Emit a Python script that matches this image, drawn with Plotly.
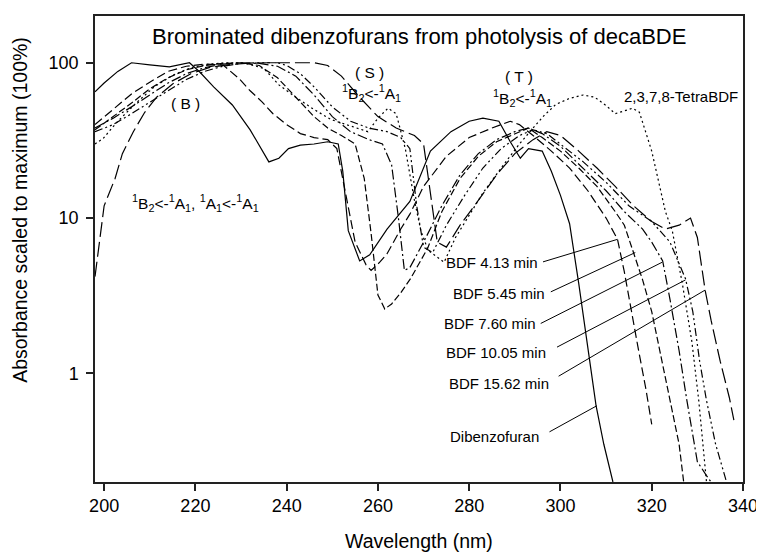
import math
import plotly.graph_objects as go

# ---------------- data ----------------
dbf_x = [198, 200, 203, 206, 210, 214.3, 218.7, 220.9, 224, 228.1, 232, 236.1, 238.3, 240.4, 243, 246, 249,
         251.3, 252.3, 253.5, 256, 258.2, 262, 267, 271.5, 276, 280, 283, 286.5, 289, 291.2, 293, 296, 298,
         300, 302, 304, 306.3, 307.8, 309.5, 311.5]
dbf_y = [65, 74, 88, 100, 97, 94, 100, 87.5, 70, 53.5, 37, 23, 24.3, 28, 29.5, 30, 31,
         30, 20, 8.3, 5.3, 5.8, 8.5, 12.8, 27, 36, 42, 44, 42, 31, 24.3, 28, 27, 20,
         14, 9.2, 3.8, 1.3, 0.62, 0.35, 0.2]

b413_x = [198, 202, 206, 210, 214, 218, 222, 226, 229.6, 232, 234.6, 237, 240, 243, 246, 249, 251, 253, 255,
          257.4, 258.5, 260.4, 262, 265, 267, 270, 275, 280, 285, 289, 291, 294, 298, 302, 306, 310, 312.5,
          314, 315.5, 317, 318.7, 320]
b413_y = [40, 50, 63, 75, 88, 95, 98, 97, 79, 66, 56, 47, 40, 35, 33, 32, 28, 14, 7,
          5.0, 4.6, 5.2, 5.9, 8.5, 10.6, 16, 25, 33, 38, 42, 40, 34, 27, 21, 15, 10, 7.3,
          4.5, 2.5, 1.47, 0.8, 0.47]

b545_x = [198, 202, 206, 210, 214, 218, 222, 226, 230, 234, 238, 242, 246, 249, 252, 255, 257, 258.5, 260,
          261.5, 263, 265, 267.2, 270.9, 274, 278, 282, 286, 290, 293, 296, 300, 304, 308, 312, 314, 316,
          318, 320, 322, 324, 326, 327]
b545_y = [37, 45, 55, 68, 80, 90, 96, 99, 100, 96, 80, 60, 45, 38, 34, 30, 18, 8, 3.2,
          2.6, 2.8, 3.3, 4.1, 6.4, 11, 18, 25, 31, 35, 38, 33, 27, 21, 16, 11, 9, 6,
          4, 2.5, 1.3, 0.7, 0.35, 0.2]

b760_x = [198, 202, 206, 210, 214, 218, 222, 226, 230, 234, 238, 242, 246, 250, 254, 258, 261, 263, 264.5,
          265.8, 267, 270, 274, 278, 282, 286, 290, 293, 296, 300, 305, 310, 314, 318, 320, 322.4, 324,
          326, 327.7, 329, 330, 332, 333]
b760_y = [38, 44, 52, 62, 74, 85, 93, 98, 100, 99, 95, 82, 62, 45, 36, 32, 30, 22, 10,
          4.6, 4.8, 7, 12, 19, 26, 32, 36, 38, 35, 29, 21, 15, 11, 8.5, 7, 5.3, 3,
          1.4, 0.67, 0.4, 0.27, 0.22, 0.2]

b1005_x = [198, 202, 206, 210, 214, 218, 222, 226, 230, 234, 238, 240, 243, 246, 250, 254, 258, 262, 265,
           267, 268.5, 270, 272, 275, 279, 283, 287, 291, 294, 297, 300, 305, 310, 315, 320, 324, 327.4,
           329, 330.5, 332, 334, 336.4]
b1005_y = [36, 40, 47, 56, 66, 78, 88, 95, 99, 100, 100, 96, 85, 70, 52, 42, 38, 36, 33,
           28, 12, 6.5, 6, 9, 14, 21, 28, 34, 37, 35, 30, 23, 17, 12, 9.5, 7, 4.07,
           2.5, 1.2, 0.67, 0.35, 0.2]

b1562_x = [198, 199, 200, 202.4, 204, 206.4, 208.9, 211.5, 215, 219, 223, 227, 231, 236, 241, 246, 249, 252,
           256, 260, 264, 268, 270, 271.5, 273, 275, 278, 282, 286, 290, 294, 297, 300, 304, 308, 312, 316,
           320, 323, 326, 328.5, 330, 331.7, 333, 335, 337, 338]
b1562_y = [4.2, 7, 12, 18, 26, 36, 48, 60, 73, 85, 93, 97, 99, 100, 100, 100, 96, 82,
           60, 45, 38, 34, 30, 15, 7, 6.5, 9, 13, 19, 26, 32, 36, 34, 27, 21, 16, 12,
           9.5, 8.5, 9, 10, 7.5, 3.44, 2.2, 1.2, 0.7, 0.5]

tetra_x = [198, 199.8, 203, 207, 211, 215, 219, 223, 227, 231, 235, 238.3, 242, 246, 249.8, 254, 257.8, 260,
           262.2, 264, 266, 268, 269.4, 271, 274.5, 277, 279.6, 283, 287, 291, 294, 296.5, 299, 302, 305,
           307.5, 310, 312, 314, 315.8, 317.3, 320, 323, 324.5, 326.7, 328.8, 330.3, 332]
tetra_y = [30, 32.6, 42, 55, 70, 83, 93, 98, 100, 99, 92, 72, 60, 50, 43, 39, 36, 44,
           51, 47, 28, 13, 8.3, 6.2, 5.2, 7.5, 10, 14.5, 21, 30, 38, 46, 54, 59, 62,
           60, 53, 47, 49, 51, 48, 27, 11, 8.3, 3.8, 1.6, 0.67, 0.2]

series = [
    ("Dibenzofuran", dbf_x, dbf_y, "solid"),
    ("BDF 4.13 min", b413_x, b413_y, "9px,4px"),
    ("BDF 5.45 min", b545_x, b545_y, "7px,3px"),
    ("BDF 7.60 min", b760_x, b760_y, "10px,3px,2px,3px"),
    ("BDF 10.05 min", b1005_x, b1005_y, "8px,3px,2px,3px,2px,3px"),
    ("BDF 15.62 min", b1562_x, b1562_y, "15px,5px"),
    ("2,3,7,8-TetraBDF", tetra_x, tetra_y, "2px,3px"),
]

# label leader targets: (label, wavelength, value, tail offset px)
leaders = [
    ("BDF 4.13 min", 312.5, 7.3, -76, 23),
    ("BDF 5.45 min", 316.4, 6.0, -86, 40),
    ("BDF 7.60 min", 322.3, 5.2, -123, 62),
    ("BDF 10.05 min", 327.4, 4.0, -130, 68),
    ("BDF 15.62 min", 331.7, 3.44, -148, 87),
    ("Dibenzofuran", 308.0, 0.62, -49, 27),
]

FONT = "Liberation Sans, Arial, Helvetica, sans-serif"

fig = go.Figure()
for name, xs, ys, dash in series:
    fig.add_trace(go.Scatter(x=xs, y=ys, mode="lines", name=name,
                             line=dict(color="black", width=1.2, dash=dash),
                             showlegend=False, hoverinfo="skip"))

ann = []
for name, wx, wy, ax, ay in leaders:
    ann.append(dict(x=wx, y=math.log10(wy), xref="x", yref="y", text="", showarrow=True,
                    ax=ax, ay=ay, arrowhead=0, arrowwidth=1, arrowcolor="black", standoff=0,
                    startstandoff=0))

def txt(s, x, y, size=15, xanchor="center"):
    ann.append(dict(text=s, x=x, y=y, xref="paper", yref="paper", showarrow=False,
                    xanchor=xanchor, yanchor="middle", font=dict(family=FONT, size=size, color="black")))

lab_txt = [
    ("BDF 4.13 min", 0.686, 0.472),
    ("BDF 5.45 min", 0.698, 0.4045),
    ("BDF 7.60 min", 0.684, 0.340),
    ("BDF 10.05 min", 0.699, 0.278),
    ("BDF 15.62 min", 0.704, 0.212),
    ("Dibenzofuran", 0.689, 0.098),
]
for s, x, y in lab_txt:
    txt(s, x, y, 15, "right")
txt("2,3,7,8-TetraBDF", 0.813, 0.827, 15, "left")
txt("( B )", 0.1404, 0.8126, 15.5)
txt("<sup>1</sup>B<sub>2</sub>&lt;-<sup>1</sup>A<sub>1</sub>, <sup>1</sup>A<sub>1</sub>&lt;-<sup>1</sup>A<sub>1</sub>",
    0.1544, 0.599, 15.5)
txt("( S )", 0.424, 0.879, 15.5)
txt("<sup>1</sup>B<sub>2</sub>&lt;-<sup>1</sup>A<sub>1</sub>", 0.426, 0.834, 15.5)
txt("( T )", 0.6547, 0.8697, 15.5)
txt("<sup>1</sup>B<sub>2</sub>&lt;-<sup>1</sup>A<sub>1</sub>", 0.6597, 0.823, 15.5)
txt("Brominated dibenzofurans from photolysis of decaBDE", 0.5, 0.955, 22)
txt("Wavelength (nm)", 0.5, -0.126, 19.5)
ann.append(dict(text="Absorbance scaled to maximum (100%)", x=-0.115, y=0.585, xref="paper", yref="paper",
                showarrow=False, textangle=-90, xanchor="center", yanchor="middle",
                font=dict(family=FONT, size=19.5, color="black")))

fig.update_layout(
    width=756, height=548,
    margin=dict(l=86.5, r=16, t=6, b=74),
    paper_bgcolor="white", plot_bgcolor="white",
    font=dict(family=FONT, size=18, color="black"),
    annotations=ann,
)
fig.update_xaxes(range=[198, 340], tickvals=[200, 220, 240, 260, 280, 300, 320, 340],
                 ticks="outside", ticklen=7, tickwidth=1.5, tickcolor="#222",
                 showline=True, linecolor="#222", linewidth=1.5, mirror=True,
                 showgrid=False, zeroline=False, tickfont=dict(size=18))
fig.update_yaxes(type="log", range=[math.log10(0.2), math.log10(200)], tickvals=[1, 10, 100],
                 ticktext=["1", "10", "100"], ticklabelstandoff=4,
                 ticks="outside", ticklen=7, tickwidth=1.5, tickcolor="#222",
                 showline=True, linecolor="#222", linewidth=1.5, mirror=True,
                 showgrid=False, zeroline=False, tickfont=dict(size=18))

fig.write_html("out.html")
